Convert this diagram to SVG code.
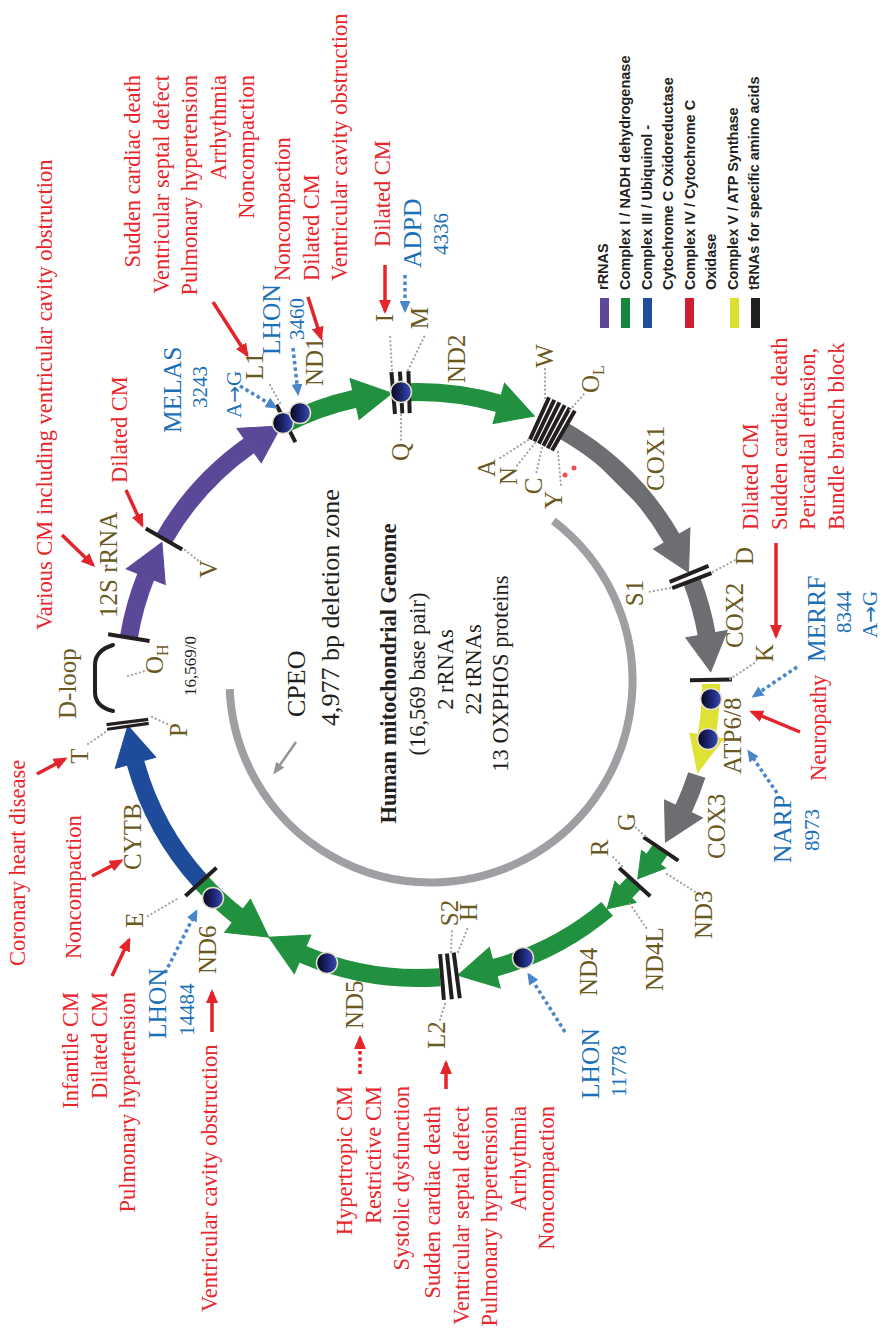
<svg xmlns="http://www.w3.org/2000/svg" width="883" height="1332" viewBox="0 0 883 1332">
<defs>
<style>
.gl{font-family:"Liberation Serif","Times New Roman",serif;font-size:25px;fill:#6b5a1f}
.rd{font-family:"Liberation Serif","Times New Roman",serif;font-size:22.5px;fill:#e8262b}
.bl{font-family:"Liberation Serif","Times New Roman",serif;font-size:25.5px;fill:#1b6fb6}
.bn{font-family:"Liberation Serif","DejaVu Serif",serif;font-size:21px;fill:#1b6fb6}
.ar{font-family:"DejaVu Sans",sans-serif;font-size:20px}
.ct{font-family:"Liberation Serif","Times New Roman",serif;font-size:22.5px;fill:#231f20}
.lg{font-family:"Liberation Sans",Arial,sans-serif;font-weight:bold;font-size:14.5px;fill:#231f20}
.band{fill:none;stroke-width:18}
.tick{stroke:#231f20;stroke-width:4}
.tk3{stroke:#231f20;stroke-width:3.2}
.lead{fill:none;stroke:#a0a2a5;stroke-width:2.2;stroke-dasharray:0.1 4;stroke-linecap:round}
.ra{fill:none;stroke:#e3242b;stroke-width:3.5;marker-end:url(#mr)}
.rdot{fill:none;stroke:#e3242b;stroke-width:3.5;stroke-dasharray:3.5 3;marker-end:url(#mr)}
.ba{fill:none;stroke:#4a86c8;stroke-width:3.5;stroke-dasharray:3.5 3;marker-end:url(#mb)}
.ball{fill:url(#gball);stroke:#e4dfca;stroke-width:1.5}
.pur{stroke:#5c4899;fill:#5c4899}
.grn{stroke:#21913f;fill:#21913f}
.blu{stroke:#1e4c9a;fill:#1e4c9a}
.gry{stroke:#6d6e71;fill:#6d6e71}
.yel{stroke:#dfe235;fill:#dfe235}
</style>
<linearGradient id="gball" x1="0" y1="0" x2="0" y2="1">
<stop offset="0" stop-color="#07071c"/>
<stop offset="0.55" stop-color="#1d2775"/>
<stop offset="1" stop-color="#3a4db2"/>
</linearGradient>
<marker id="mr" markerUnits="userSpaceOnUse" markerWidth="14" markerHeight="12" refX="11" refY="6" orient="auto"><path d="M0,0 L14,6 L0,12 z" fill="#e3242b"/></marker>
<marker id="mb" markerUnits="userSpaceOnUse" markerWidth="12" markerHeight="11" refX="9" refY="5.5" orient="auto"><path d="M0,0 L12,5.5 L0,11 z" fill="#4a86c8"/></marker>
<marker id="mg" markerUnits="userSpaceOnUse" markerWidth="12" markerHeight="10" refX="9" refY="5" orient="auto"><path d="M0,0 L12,5 L0,10 z" fill="#939598"/></marker>
</defs>
<rect width="883" height="1332" fill="#ffffff"/>
<g transform="translate(0,1332) rotate(-90)">

<g id="deletion-zone">
<path d="M 811.1 553.4 A 201.5 201.5 0 1 1 642.9 229.7" fill="none" stroke="#9d9fa2" stroke-width="8"/>
<text class="ct" x="615" y="305" style="font-size:26px">CPEO</text>
<text class="ct" x="606" y="339" style="font-size:26px">4,977 bp deletion zone</text>
</g>

<g id="genome-title">
<text class="ct" x="658.5" y="396" text-anchor="middle" font-weight="bold">Human mitochondrial Genome</text>
<text class="ct" x="658" y="425" text-anchor="middle">(16,569 base pair)</text>
<text class="ct" x="662.5" y="453" text-anchor="middle">2 rRNAs</text>
<text class="ct" x="662.5" y="481" text-anchor="middle">22 tRNAs</text>
<text class="ct" x="658.5" y="508" text-anchor="middle">13 OXPHOS proteins</text>
</g>

<g id="gene-12S">
<path class="band pur" d="M 694.3 128.8 A 293 293 0 0 1 755.3 145.8" fill="none"/>
<polygon class="pur" points="919,418 961,418 937.6,455.7" transform="rotate(-68.3 647 418)"/>
<text class="gl" x="714" y="117">12S rRNA</text>
</g>
<g id="gene-16S">
<path class="band pur" d="M 793.1 164.0 A 293 293 0 0 1 886.4 249.1" fill="none"/>
<polygon class="pur" points="919,418 961,418 937.6,455.7" transform="rotate(-35.2 647 418)"/>
</g>
<g id="gene-ND1">
<path class="band grn" d="M 908.5 285.9 A 293 293 0 0 1 933.1 354.6" fill="none"/>
<polygon class="grn" points="919,418 961,418 937.6,455.7" transform="rotate(-12.5 647 418)"/>
<text class="gl" x="946" y="323">ND1</text>
</g>
<g id="gene-ND2">
<path class="band grn" d="M 939.5 401.1 A 293 293 0 0 1 928.6 498.8" fill="none"/>
<polygon class="grn" points="919,418 961,418 937.6,455.7" transform="rotate(16 647 418)"/>
<text class="gl" x="949" y="465">ND2</text>
</g>
<g id="gene-COX1">
<path class="band gry" d="M 900.7 564.5 A 293 293 0 0 1 793.5 671.7" fill="none"/>
<polygon class="gry" points="919,418 961,418 937.6,455.7" transform="rotate(60 647 418)"/>
<text class="gl" x="841" y="664">COX1</text>
</g>
<g id="gene-COX2">
<path class="band gry" d="M 751.0 691.9 A 293 293 0 0 1 697.9 706.6" fill="none"/>
<polygon class="gry" points="919,418 961,418 937.6,455.7" transform="rotate(80 647 418)"/>
<text class="gl" x="684" y="743">COX2</text>
</g>
<g id="gene-ATP68">
<path class="band yel" d="M 648.0 711.0 A 293 293 0 0 1 596.1 706.6" fill="none"/>
<polygon class="yel" points="923,418 957,418 937.6,455.7" transform="rotate(100 647 418)"/>
<text class="gl" x="558" y="741">ATP6/8</text>
</g>
<g id="gene-COX3">
<path class="band gry" d="M 556.9 696.8 A 293 293 0 0 1 523.2 683.6" fill="none"/>
<polygon class="gry" points="919,418 961,418 937.6,455.7" transform="rotate(115 647 418)"/>
<text class="gl" x="473" y="725">COX3</text>
</g>
<g id="gene-ND3">
<path class="band grn" d="M 481.9 660.0 A 293 293 0 0 1 472.7 653.5" fill="none"/>
<polygon class="grn" points="925,418 955,418 938.9,443" transform="rotate(126.5 647 418)"/>
<text class="gl" x="393" y="712">ND3</text>
</g>
<g id="gene-ND4L">
<path class="band grn" d="M 448.7 633.7 A 293 293 0 0 1 440.2 625.5" fill="none"/>
<polygon class="grn" points="925,418 955,418 938.9,443" transform="rotate(134.9 647 418)"/>
<text class="gl" x="341" y="663">ND4L</text>
</g>
<g id="gene-ND4">
<path class="band grn" d="M 423.2 607.1 A 293 293 0 0 1 364.3 494.8" fill="none"/>
<polygon class="grn" points="919,418 961,418 937.6,455.7" transform="rotate(164.8 647 418)"/>
<text class="gl" x="336" y="597">ND4</text>
</g>
<g id="gene-ND5">
<path class="band grn" d="M 354.8 440.0 A 293 293 0 0 1 377.7 302.6" fill="none"/>
<polygon class="grn" points="919,418 961,418 937.6,455.7" transform="rotate(203.2 647 418)"/>
<text class="gl" x="303" y="363">ND5</text>
</g>
<g id="gene-ND6">
<path class="band grn" d="M 416.1 237.6 A 293 293 0 0 1 450.2 201.0" fill="none"/>
<polygon class="grn" points="919,418 961,418 937.6,380.3" transform="rotate(218 647 418)"/>
<text class="gl" x="358" y="216">ND6</text>
</g>
<g id="gene-CYTB">
<path class="band blu" d="M 450.2 201.0 A 293 293 0 0 1 569.2 135.5" fill="none"/>
<polygon class="blu" points="919,418 961,418 937.6,455.7" transform="rotate(254.6 647 418)"/>
<text class="gl" x="462" y="141">CYTB</text>
</g>

<g id="d-loop">
<path d="M 687 113 C 683 100, 676 95, 667 95 L 640 95 C 631 95, 624 100, 621 113" fill="none" stroke="#231f20" stroke-width="4" stroke-linecap="round"/>
<text class="gl" x="613" y="76">D-loop</text>
<text class="gl" x="658" y="163">O<tspan style="font-size:16px" dy="5">H</tspan></text>
<text class="ct" x="636" y="196" style="font-size:17px">16,569/0</text>
</g>

<g id="trna-ticks">
<line class="tick" x1="919" y1="418" x2="961" y2="418" transform="rotate(-80.7 647 418)"/>
<line class="tick" x1="919" y1="418" x2="961" y2="418" transform="rotate(-60.1 647 418)"/>
<line class="tick" x1="919" y1="418" x2="961" y2="418" transform="rotate(-26.8 647 418)"/>
<line class="tick" x1="919" y1="418" x2="961" y2="418" transform="rotate(-4.85 647 418)"/>
<line class="tick" x1="919" y1="418" x2="961" y2="418" transform="rotate(-3.3 647 418)"/>
<line class="tick" x1="919" y1="418" x2="961" y2="418" transform="rotate(-1.75 647 418)"/>
<line class="tick" x1="917" y1="418" x2="963" y2="418" transform="rotate(24.5 647 418)"/>
<line class="tick" x1="917" y1="418" x2="963" y2="418" transform="rotate(25.55 647 418)"/>
<line class="tick" x1="917" y1="418" x2="963" y2="418" transform="rotate(26.6 647 418)"/>
<line class="tick" x1="917" y1="418" x2="963" y2="418" transform="rotate(27.65 647 418)"/>
<line class="tick" x1="917" y1="418" x2="963" y2="418" transform="rotate(28.7 647 418)"/>
<line class="tick" x1="917" y1="418" x2="963" y2="418" transform="rotate(29.75 647 418)"/>
<line class="tick" x1="919" y1="418" x2="961" y2="418" transform="rotate(67.7 647 418)"/>
<line class="tick" x1="919" y1="418" x2="961" y2="418" transform="rotate(69.15 647 418)"/>
<line class="tick" x1="919" y1="418" x2="961" y2="418" transform="rotate(89 647 418)"/>
<line class="tick" x1="919" y1="418" x2="961" y2="418" transform="rotate(124 647 418)"/>
<line class="tick" x1="919" y1="418" x2="961" y2="418" transform="rotate(132.3 647 418)"/>
<line class="tick" x1="917" y1="418" x2="963" y2="418" transform="rotate(172.4 647 418)"/>
<line class="tick" x1="917" y1="418" x2="963" y2="418" transform="rotate(173.85 647 418)"/>
<line class="tick" x1="917" y1="418" x2="963" y2="418" transform="rotate(175.3 647 418)"/>
<line class="tick" x1="919" y1="418" x2="961" y2="418" transform="rotate(227.8 647 418)"/>
<line class="tk3" x1="919" y1="418" x2="961" y2="418" transform="rotate(261.9 647 418)"/>
<line class="tk3" x1="919" y1="418" x2="961" y2="418" transform="rotate(262.75 647 418)"/>
</g>

<g id="trna-labels">
<text class="gl" x="754" y="217">V</text>
<text class="gl" x="952" y="263">L1</text>
<text class="gl" x="1014" y="393" text-anchor="middle">I</text>
<text class="gl" x="1014" y="428" text-anchor="middle">M</text>
<text class="gl" x="880" y="409" text-anchor="middle">Q</text>
<text class="gl" x="976" y="553" text-anchor="middle">W</text>
<text class="gl" x="939" y="599">O<tspan style="font-size:16px" dy="5">L</tspan></text>
<text class="gl" x="864" y="495" text-anchor="middle">A</text>
<text class="gl" x="856" y="517" text-anchor="middle">N</text>
<text class="gl" x="846" y="542" text-anchor="middle">C</text>
<text class="gl" x="832" y="562" text-anchor="middle">Y</text>
<text class="gl" x="739" y="643" text-anchor="middle">S1</text>
<text class="gl" x="776" y="753" text-anchor="middle">D</text>
<text class="gl" x="679" y="773" text-anchor="middle">K</text>
<text class="gl" x="510" y="635" text-anchor="middle">G</text>
<text class="gl" x="484" y="608" text-anchor="middle">R</text>
<text class="gl" x="419" y="458" text-anchor="middle">S2</text>
<text class="gl" x="420" y="477" text-anchor="middle">H</text>
<text class="gl" x="283" y="445">L2</text>
<text class="gl" x="412" y="143" text-anchor="middle">E</text>
<text class="gl" x="576" y="88" text-anchor="middle">T</text>
<text class="gl" x="602" y="187" text-anchor="middle">P</text>
<circle cx="857" cy="565" r="2.5" fill="#f0504f"/>
<circle cx="864" cy="574" r="2.5" fill="#f0504f"/>
</g>

<g id="mutations">
<circle class="ball" cx="909" cy="283" r="10.5"/>
<circle class="ball" cx="919" cy="300" r="10.5"/>
<circle class="ball" cx="940" cy="401" r="10.5"/>
<circle class="ball" cx="633" cy="711" r="10.5"/>
<circle class="ball" cx="593" cy="708" r="10.5"/>
<circle class="ball" cx="374" cy="523" r="10.5"/>
<circle class="ball" cx="369" cy="327" r="10.5"/>
<circle class="ball" cx="434" cy="213" r="10.5"/>
</g>

<g id="connectors">
<line class="lead" x1="929" y1="280" x2="947" y2="270"/>
<line class="lead" x1="962" y1="392" x2="997" y2="390"/>
<line class="lead" x1="962" y1="408" x2="997" y2="425"/>
<line class="lead" x1="917" y1="401" x2="892" y2="401"/>
<line class="lead" x1="934" y1="545" x2="964" y2="545"/>
<line class="lead" x1="922" y1="570" x2="939" y2="585"/>
<line class="lead" x1="892" y1="528" x2="872" y2="497"/>
<line class="lead" x1="889" y1="535" x2="865" y2="516"/>
<line class="lead" x1="884" y1="542" x2="858" y2="536"/>
<line class="lead" x1="880" y1="558" x2="846" y2="561"/>
<line class="lead" x1="744" y1="670" x2="740" y2="648"/>
<line class="lead" x1="760" y1="713" x2="772" y2="735"/>
<line class="lead" x1="653" y1="730" x2="670" y2="756"/>
<line class="lead" x1="496" y1="645" x2="506" y2="634"/>
<line class="lead" x1="458" y1="667" x2="439" y2="697"/>
<line class="lead" x1="466" y1="622" x2="477" y2="611"/>
<line class="lead" x1="428" y1="630" x2="403" y2="647"/>
<line class="lead" x1="380" y1="451" x2="403" y2="452"/>
<line class="lead" x1="380" y1="458" x2="405" y2="468"/>
<line class="lead" x1="328" y1="445" x2="312" y2="440"/>
<line class="lead" x1="416" y1="148" x2="433" y2="177"/>
<line class="lead" x1="588" y1="88" x2="601" y2="107"/>
<line class="lead" x1="615" y1="152" x2="608" y2="167"/>
<line class="lead" x1="656" y1="128" x2="661" y2="145"/>
<line class="lead" x1="782" y1="185" x2="770" y2="200"/>

<line class="ra" x1="1030" y1="213" x2="977" y2="247"/>
<line class="ra" x1="1035" y1="308" x2="994" y2="321"/>
<line class="ra" x1="1067" y1="385" x2="1021" y2="385"/>
<line class="ra" x1="797" y1="62" x2="767" y2="93"/>
<line class="ra" x1="842" y1="126" x2="807" y2="142"/>
<line class="ra" x1="789" y1="776" x2="696" y2="776"/>
<line class="ra" x1="600" y1="800" x2="620" y2="752"/>
<line class="ra" x1="558" y1="37" x2="573" y2="65"/>
<line class="ra" x1="456" y1="92" x2="471" y2="121"/>
<line class="ra" x1="356" y1="112" x2="392" y2="129"/>
<line class="ra" x1="300" y1="212" x2="340" y2="212"/>
<line class="ra" x1="243" y1="446" x2="269" y2="446"/>
<line class="rdot" x1="258" y1="360" x2="294" y2="360"/>

<line class="ba" x1="946" y1="240" x2="925" y2="275"/>
<line class="ba" x1="984" y1="293" x2="939" y2="298"/>
<line class="ba" x1="1057" y1="405" x2="1022" y2="405"/>
<line class="ba" x1="665" y1="797" x2="636" y2="754"/>
<line class="ba" x1="539" y1="777" x2="580" y2="749"/>
<line class="ba" x1="300" y1="565" x2="357" y2="529"/>
<line class="ba" x1="359" y1="165" x2="420" y2="196"/>

<line x1="590" y1="296" x2="560" y2="275" stroke="#939598" stroke-width="2.5" marker-end="url(#mg)"/>
</g>

<g id="disease-labels">
<text class="rd" x="702" y="52">Various CM including ventricular cavity obstruction</text>
<text class="rd" x="1257" y="140" text-anchor="end">Sudden cardiac death</text>
<text class="rd" x="1257" y="168.5" text-anchor="end">Ventricular septal defect</text>
<text class="rd" x="1257" y="197" text-anchor="end">Pulmonary hypertension</text>
<text class="rd" x="1257" y="225.5" text-anchor="end">Arrhythmia</text>
<text class="rd" x="1257" y="254" text-anchor="end">Noncompaction</text>
<text class="rd" x="1051" y="290">Noncompaction</text>
<text class="rd" x="1051" y="318.5">Dilated CM</text>
<text class="rd" x="1051" y="347">Ventricular cavity obstruction</text>
<text class="rd" x="1085" y="390">Dilated CM</text>
<text class="rd" x="849" y="127">Dilated CM</text>
<text class="rd" x="802" y="758">Dilated CM</text>
<text class="rd" x="802" y="786.5">Sudden cardiac death</text>
<text class="rd" x="802" y="815">Pericardial effusion,</text>
<text class="rd" x="802" y="843.5">Bundle branch block</text>
<text class="rd" x="551" y="826">Neuropathy</text>
<text class="rd" x="366" y="25">Coronary heart disease</text>
<text class="rd" x="373" y="81">Noncompaction</text>
<text class="rd" x="340" y="78" text-anchor="end">Infantile CM</text>
<text class="rd" x="340" y="106.5" text-anchor="end">Dilated CM</text>
<text class="rd" x="340" y="135" text-anchor="end">Pulmonary hypertension</text>
<text class="rd" x="20" y="217">Ventricular cavity obstruction</text>
<text class="rd" x="246" y="352" text-anchor="end">Hypertropic CM</text>
<text class="rd" x="246" y="380.5" text-anchor="end">Restrictive CM</text>
<text class="rd" x="246" y="409" text-anchor="end">Systolic dysfunction</text>
<text class="rd" x="226" y="440" text-anchor="end">Sudden cardiac death</text>
<text class="rd" x="226" y="468.5" text-anchor="end">Ventricular septal defect</text>
<text class="rd" x="226" y="497" text-anchor="end">Pulmonary hypertension</text>
<text class="rd" x="226" y="525.5" text-anchor="end">Arrhythmia</text>
<text class="rd" x="226" y="554" text-anchor="end">Noncompaction</text>
</g>

<g id="syndrome-labels">
<text class="bl" x="899" y="181">MELAS</text>
<text class="bn" x="924" y="207">3243</text>
<text class="bn" x="914" y="241">A<tspan class="ar">→</tspan>G</text>
<text class="bl" x="977" y="280">LHON</text>
<text class="bn" x="992" y="304">3460</text>
<text class="bl" x="1064" y="421">ADPD</text>
<text class="bn" x="1077" y="448">4336</text>
<text class="bl" x="670" y="825">MERRF</text>
<text class="bn" x="699" y="851">8344</text>
<text class="bn" x="694" y="877">A<tspan class="ar">→</tspan>G</text>
<text class="bl" x="469" y="791">NARP</text>
<text class="bn" x="481" y="819">8973</text>
<text class="bl" x="233" y="599">LHON</text>
<text class="bn" x="235" y="626">11778</text>
<text class="bl" x="293" y="166">LHON</text>
<text class="bn" x="296" y="194">14484</text>
</g>

<g id="legend">
<rect x="1004" y="600" width="30" height="9" fill="#5c4899"/>
<rect x="1004" y="621" width="30" height="9" fill="#17863d"/>
<rect x="1004" y="643" width="30" height="9" fill="#1f4e9c"/>
<rect x="1004" y="685" width="30" height="9" fill="#cf1f2e"/>
<rect x="1004" y="730" width="30" height="9" fill="#dce031"/>
<rect x="1004" y="751" width="30" height="9" fill="#231f20"/>
<text class="lg" x="1042" y="608">rRNAS</text>
<text class="lg" x="1042" y="630">Complex I / NADH dehydrogenase</text>
<text class="lg" x="1042" y="651.5">Complex III / Ubiquinol -</text>
<text class="lg" x="1042" y="673">Cytochrome C Oxidoreductase</text>
<text class="lg" x="1042" y="694.5">Complex IV / Cytochrome C</text>
<text class="lg" x="1042" y="716">Oxidase</text>
<text class="lg" x="1042" y="737.5">Complex V / ATP Synthase</text>
<text class="lg" x="1042" y="759">tRNAs for specific amino acids</text>
</g>
</g>
</svg>
